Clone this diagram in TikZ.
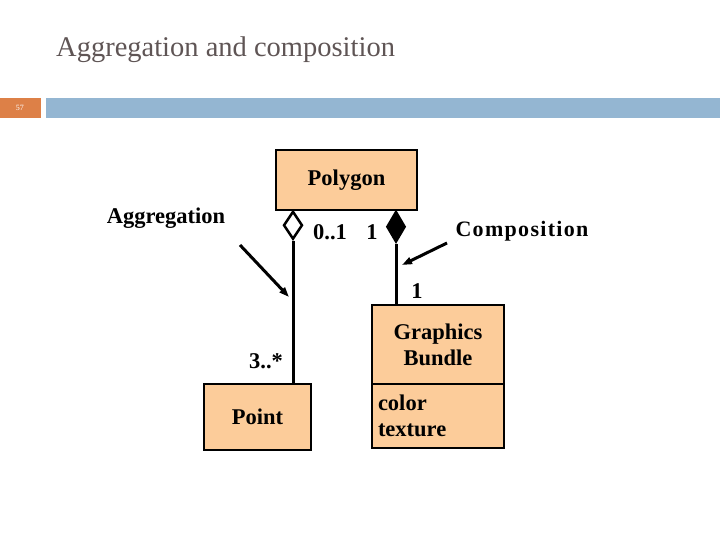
\documentclass[tikz,border=0pt]{standalone}
\usepackage{fontspec}
\setmainfont{Liberation Serif}
\definecolor{peach}{RGB}{252, 204, 154}
\definecolor{barblue}{RGB}{148, 182, 210}
\definecolor{barorange}{RGB}{221, 128, 71}
\definecolor{titlegray}{RGB}{95, 85, 85}
\usetikzlibrary{shapes.geometric, arrows.meta, positioning}

\begin{document}
\begin{tikzpicture}[
        x=1pt, y=-1pt,
        every node/.style={font=\fontsize{22.5}{26}\selectfont\bfseries, align=center, inner sep=0pt},
        cls/.style={rectangle, draw=black, line width=2pt, fill=peach},
        hollowdia/.style={diamond, draw=black, line width=2.5pt, fill=white, minimum width=19pt, minimum height=28pt, anchor=north},
        soliddia/.style={diamond, draw=black, line width=1.5pt, fill=black, minimum width=19pt, minimum height=32pt, anchor=north},
        mult/.style={font=\fontsize{22.5}{26}\selectfont\bfseries},
        link/.style={line width=3pt, black},
        arr/.style={-{Triangle[length=10pt, width=7pt]}, line width=3pt, black}
    ]
        \useasboundingbox (0,0) rectangle (720,540);

        % Header
        \node[font=\fontsize{28.5}{32}\selectfont, text=titlegray, anchor=west] (title) at (56, 50) {Aggregation and composition};
        \fill[barorange] (0, 98) rectangle (41, 118);
        \fill[barblue] (46, 98) rectangle (720, 118);
        \node[font=\fontsize{8}{9}\selectfont, text=white] (pagenum) at (20, 108) {57};

        % Classes
        \node[cls, minimum width=141pt, minimum height=60pt] (poly) at (346.5, 180) {Polygon};
        \node[cls, minimum width=107pt, minimum height=66pt] (point) at (257.5, 417) {Point};
        \node[cls, minimum width=132pt, minimum height=79pt] (gb) at (438, 344.5) {Graphics\\Bundle};
        \node[cls, minimum width=132pt, minimum height=64pt, text width=120pt, align=left] (gbattr) at (438, 416) {color\\texture};

        % Diamonds
        \node[hollowdia] (agg) at (293, 210) {};
        \node[soliddia] (comp) at (396, 210) {};

        % Links
        \draw[link] (agg.south) -- (agg.south |- point.north);
        \draw[link] (comp.south) -- (comp.south |- gb.north);

        % Multiplicities
        \node[mult] (m01) at (330, 232) {0..1};
        \node[mult] (m1a) at (372, 232) {1};
        \node[mult] (m1b) at (417, 291) {1};
        \node[mult] (m3s) at (266, 361) {3..*};

        % Labels and pointers
        \node (agglbl) at (166, 218) {Aggregation};
        \node[font=\fontsize{22}{26}\selectfont\bfseries\addfontfeature{LetterSpace=6}] (complbl) at (522, 231) {Composition};
        \coordinate (aggfrom) at (240, 245);
        \coordinate (aggto) at (289, 297);
        \coordinate (compfrom) at (447, 243);
        \coordinate (compto) at (402, 265);
        \draw[arr] (aggfrom) -- (aggto);
        \draw[arr] (compfrom) -- (compto);
    \end{tikzpicture}
\end{document}
